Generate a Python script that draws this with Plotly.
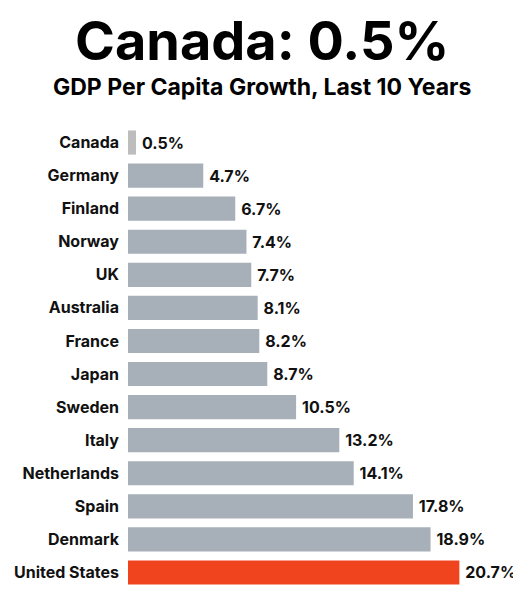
import plotly.graph_objects as go

countries = ["Canada", "Germany", "Finland", "Norway", "UK", "Australia", "France",
             "Japan", "Sweden", "Italy", "Netherlands", "Spain", "Denmark", "United States"]
growth = [0.5, 4.7, 6.7, 7.4, 7.7, 8.1, 8.2, 8.7, 10.5, 13.2, 14.1, 17.8, 18.9, 20.7]

colors = ["#bdbdbd"] + ["#a7afb9"] * 12 + ["#f0441f"]

# page body has an 8px margin, so work in shifted pixel coords
OFF = 8
W, H = 521 - OFF, 600 - OFF
TOP, BOT, LEFT = 126 - OFF, 11, 128 - OFF
PLOT_H = H - TOP - BOT

fig = go.Figure(
    go.Bar(
        x=growth,
        y=countries,
        orientation="h",
        marker=dict(color=colors, line=dict(width=0)),
        text=[f"{v}%" for v in growth],
        textposition="outside",
        cliponaxis=False,
        textfont=dict(family="Inter", size=16, color="#111"),
        texttemplate="\u2009<b>%{text}</b>",
    )
)


def py(pixel_y):
    return 1 + (TOP - (pixel_y - OFF)) / PLOT_H


def px_(pixel_x):
    return (pixel_x - OFF - LEFT) / (W - LEFT)


fig.update_layout(
    width=W,
    height=H,
    margin=dict(l=LEFT, r=0, t=TOP, b=BOT, autoexpand=False),
    plot_bgcolor="white",
    paper_bgcolor="white",
    bargap=0.27,
    showlegend=False,
    font=dict(family="Inter", color="#111"),
    xaxis=dict(range=[0, 24.55], visible=False, automargin=False),
    yaxis=dict(
        autorange="reversed",
        automargin=False,
        showgrid=False,
        showline=False,
        ticks="",
        ticklabelstandoff=8,
        tickfont=dict(family="Inter", size=16, color="#111"),
        tickvals=countries,
        ticktext=[f"<b>{c}</b>" for c in countries],
    ),
    annotations=[
        dict(text="<b>Canada: 0.5%</b>", x=px_(262), y=py(40),
             xref="paper", yref="paper", yanchor="middle", xanchor="center",
             showarrow=False, font=dict(family="Inter", size=54, color="#000")),
        dict(text="<b>GDP Per Capita Growth, Last 10 Years</b>",
             x=px_(262), y=py(87),
             xref="paper", yref="paper", yanchor="middle", xanchor="center",
             showarrow=False, font=dict(family="Inter", size=23, color="#000")),
    ],
)

fig.write_html("out.html")
